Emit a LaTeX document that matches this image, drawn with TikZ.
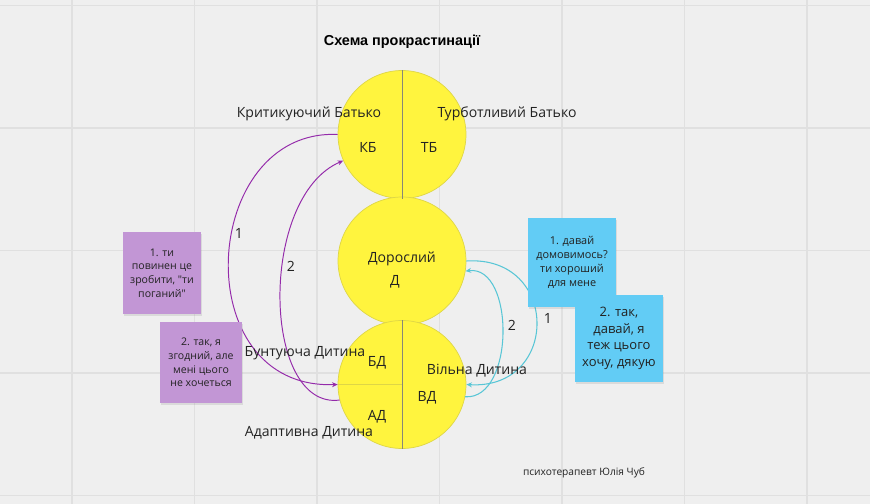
\documentclass[tikz,border=0pt]{standalone}
\usepackage{fontspec}
\setmainfont{Open Sans}
\newfontfamily\notefont{Open Sans}
\newfontfamily\headfont{Liberation Sans}
\usetikzlibrary{arrows.meta,shadows}

\definecolor{boardgray}{RGB}{239,239,239}
\definecolor{gridgray}{RGB}{224,224,224}
\definecolor{egoyellow}{RGB}{255,244,62}
\definecolor{egoedge}{RGB}{222,214,70}
\definecolor{splitgray}{RGB}{135,135,120}
\definecolor{textgray}{RGB}{34,34,34}
\definecolor{notepurple}{RGB}{194,150,213}
\definecolor{noteblue}{RGB}{98,204,245}
\definecolor{critpurple}{RGB}{148,42,170}
\definecolor{careblue}{RGB}{88,198,214}

\begin{document}
\begin{tikzpicture}[x=0.02cm,y=-0.02cm,
    ego/.style={circle,fill=egoyellow,draw=egoedge,line width=0.4pt,minimum size=2.56cm,inner sep=0pt},
    tag/.style={font=\fontsize{8}{9.6}\selectfont,text=textgray,inner sep=0pt},
    sticky/.style={align=center,inner sep=2pt,text=textgray,
      drop shadow={opacity=0.18,shadow xshift=0.5pt,shadow yshift=-1.3pt}},
    critic/.style={draw=critpurple,line width=0.55pt,-{Stealth[length=3.2pt,width=2.8pt]}},
    care/.style={draw=careblue,line width=0.6pt,-{Stealth[length=3.2pt,width=2.8pt]}}]
  % board
  \fill[boardgray] (0,0) rectangle (870,504);
  \useasboundingbox (0,0) rectangle (870,504);
  \foreach \gx in {72,194.5,317,439.5,562,684.5,807}
    \draw[gridgray,line width=0.8pt] (\gx,0) -- (\gx,504);
  \foreach \gy in {5.5,128,250.5,373,495.5}
    \draw[gridgray,line width=0.8pt] (0,\gy) -- (870,\gy);

  \node[font=\headfont\bfseries\fontsize{8.2}{10}\selectfont,text=black] (title) at (402,42) {Схема прокрастинації};

  % ego states
  \node[ego] (parent) at (402,134.5) {};
  \node[ego] (adult) at (402,261) {};
  \node[ego] (child) at (402,384.5) {};
  \draw[splitgray,line width=0.5pt] (parent.north) -- (parent.south);
  \draw[splitgray,line width=0.5pt] (child.north) -- (child.south);
  \draw[egoedge,line width=0.4pt] (child.west) -- (child.center);

  % transactions
  \draw[critic] (parent.180) .. controls (200,128) and (185,390) .. (child.180);
  \draw[critic] (child.194) .. controls (262,410) and (258,197) .. (parent.204);
  \draw[care] (adult.0) .. controls (560,255) and (560,390) .. (child.0);
  \draw[care] (child.-11) .. controls (515,400) and (515,265) .. (adult.-9);
  \node[tag] (critone) at (239,233) {1};
  \node[tag] (crittwo) at (291,266) {2};
  \node[tag] (careone) at (548,318) {1};
  \node[tag] (caretwo) at (512,325) {2};

  % sticky notes
  \node[sticky,fill=notepurple,minimum width=1.56cm,minimum height=1.64cm,
    font=\notefont\fontsize{6}{7.8}\selectfont] (critnote) at (162,273)
    {1. ти\\повинен це\\зробити, "ти\\поганий"};
  \node[sticky,fill=notepurple,minimum width=1.64cm,minimum height=1.62cm,
    font=\notefont\fontsize{6}{7.8}\selectfont] (rebelnote) at (201,362.5)
    {2. так, я\\згодний, але\\мені цього\\не хочеться};
  \node[sticky,fill=noteblue,minimum width=1.76cm,minimum height=1.78cm,
    font=\notefont\fontsize{6.2}{7.9}\selectfont] (adultnote) at (572,262.5)
    {1. давай\\домовимось?\\ти хороший\\для мене};
  \node[sticky,fill=noteblue,minimum width=1.76cm,minimum height=1.74cm,
    font=\notefont\fontsize{7.4}{9.4}\selectfont] (freenote) at (619,338.5)
    {2. так,\\давай, я\\теж цього\\хочу, дякую};

  % names
  \node[tag] (kb) at (368,147) {КБ};
  \node[tag] (tb) at (429,147) {ТБ};
  \node[tag] (kbname) at (309,114) {Критикуючий Батько};
  \node[tag] (tbname) at (507,114) {Турботливий Батько};
  \node[tag] (aname) at (402,259) {Дорослий};
  \node[tag] (d) at (395,282) {Д};
  \node[tag] (bdname) at (305,353) {Бунтуюча Дитина};
  \node[tag] (bd) at (377,363) {БД};
  \node[tag] (vdname) at (477,371) {Вільна Дитина};
  \node[tag] (vd) at (427,398) {ВД};
  \node[tag] (ad) at (377,417) {АД};
  \node[tag] (adname) at (309,433) {Адаптивна Дитина};

  \node[font=\fontsize{5.8}{7}\selectfont,text=textgray] (author) at (584,473) {психотерапевт Юлія Чуб};
\end{tikzpicture}
\end{document}
